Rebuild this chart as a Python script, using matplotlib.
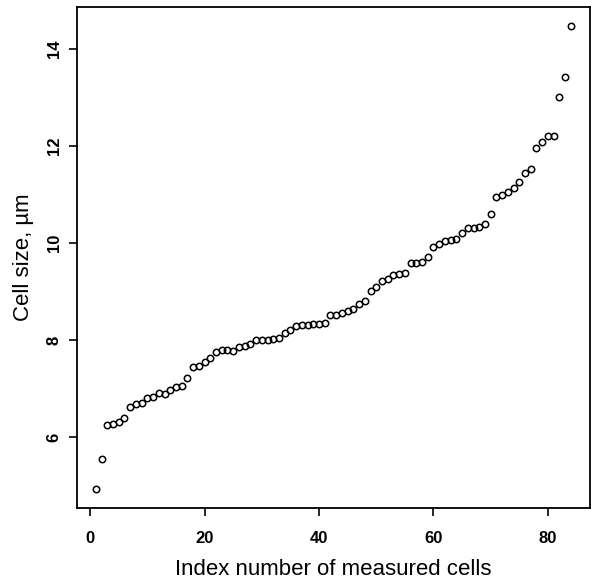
import numpy as np
import matplotlib
matplotlib.use('Agg')
import matplotlib.pyplot as plt

plt.rcParams['font.family'] = ['Liberation Sans', 'DejaVu Sans']

# cell sizes (um), sorted
cell_size = [4.93, 5.55, 6.26, 6.28, 6.32, 6.39, 6.62, 6.68, 6.70, 6.81,
             6.83, 6.91, 6.90, 6.97, 7.03, 7.06, 7.23, 7.44, 7.46, 7.55,
             7.63, 7.75, 7.79, 7.79, 7.78, 7.86, 7.88, 7.92, 8.01, 8.00,
             8.00, 8.03, 8.05, 8.15, 8.21, 8.29, 8.32, 8.32, 8.34, 8.34,
             8.36, 8.52, 8.52, 8.55, 8.60, 8.64, 8.74, 8.80, 9.02, 9.09,
             9.22, 9.27, 9.35, 9.37, 9.39, 9.58, 9.58, 9.60, 9.71, 9.91,
             9.99, 10.05, 10.06, 10.09, 10.20, 10.30, 10.31, 10.34, 10.39, 10.59,
             10.95, 10.98, 11.06, 11.13, 11.26, 11.44, 11.53, 11.96, 12.08, 12.21,
             12.21, 13.01, 13.41, 14.48]
index = np.arange(1, len(cell_size) + 1)

x_ticks = [0, 20, 40, 60, 80]
y_ticks = [6, 8, 10, 12, 14]

fig = plt.figure(figsize=(5.91, 5.81), dpi=100)
ax = fig.add_axes([0.130, 0.126, 0.868, 0.862])

ax.plot(index, cell_size, 'o', mfc='none', mec='black', ms=4.6, mew=1.1)

# R style 4% padding
def pad(v):
    lo, hi = min(v), max(v)
    d = (hi - lo) * 0.04
    return lo - d, hi + d

ax.set_xlim(*pad(index))
ax.set_ylim(*pad(cell_size))

ax.set_xticks(x_ticks)
ax.set_yticks(y_ticks)
ax.set_xticklabels([str(t) for t in x_ticks], fontsize=12, fontweight='bold')
ax.set_yticklabels([str(t) for t in y_ticks], fontsize=12, fontweight='bold',
                   rotation=90, va='center')
ax.tick_params(direction='out', length=6, width=1.2)
ax.tick_params(axis='x', pad=11)
ax.tick_params(axis='y', pad=5)

for s in ax.spines.values():
    s.set_linewidth(1.3)

ax.set_xlabel('Index number of measured cells', fontsize=16, labelpad=9)
ax.set_ylabel('Cell size, µm', fontsize=16, labelpad=9)

fig.savefig('out.png', dpi=100)
